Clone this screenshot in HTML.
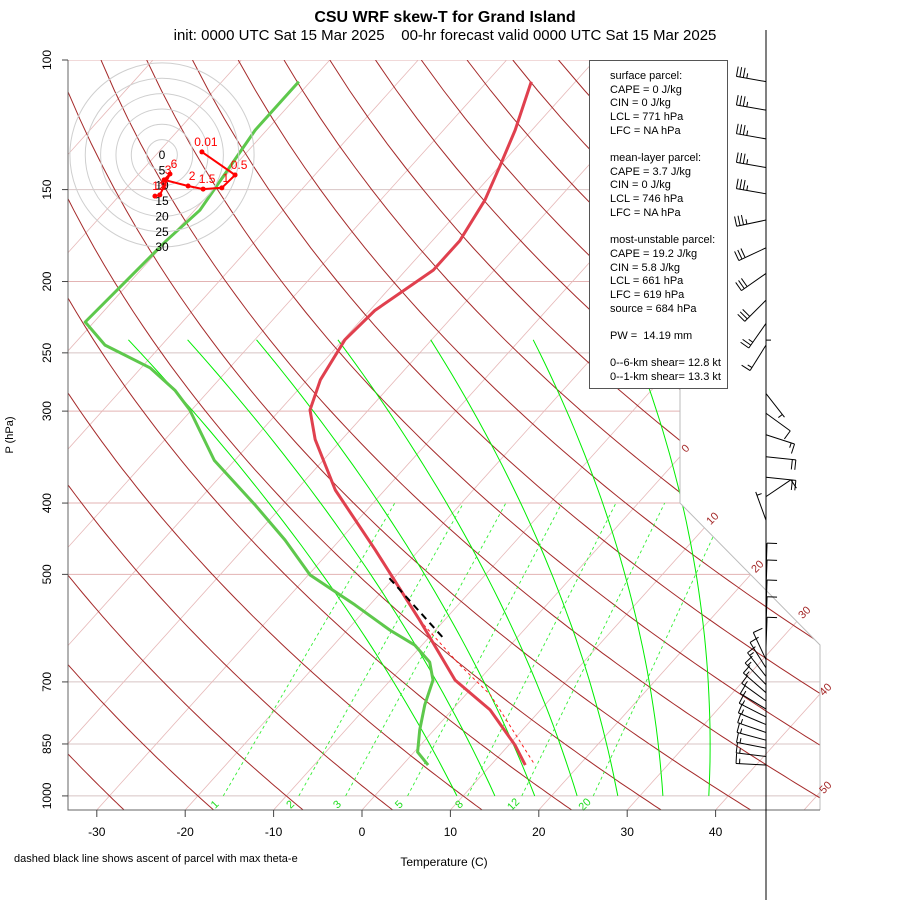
<!DOCTYPE html>
<html><head><meta charset="utf-8"><title>CSU WRF skew-T</title>
<style>
body{margin:0;background:#fff;}
svg{display:block;font-family:"Liberation Sans",Arial,sans-serif;}
.pre{white-space:pre;}
</style></head>
<body>
<svg id="chart" width="900" height="900" viewBox="0 0 900 900" xmlns="http://www.w3.org/2000/svg">
<defs>
<clipPath id="plotclip"><polygon points="68,60 680,60 680,503 820,645 820,810 68,810"/></clipPath>
</defs>
<text x="445" y="22" text-anchor="middle" font-size="16" font-weight="bold">CSU WRF skew-T for Grand Island</text>
<text class="pre" xml:space="preserve" x="445" y="40" text-anchor="middle" font-size="15">init: 0000 UTC Sat 15 Mar 2025    00-hr forecast valid 0000 UTC Sat 15 Mar 2025</text>
<g id="bg" clip-path="url(#plotclip)"></g>
<g id="fg"></g>
<text x="0" y="0" transform="translate(13,435) rotate(-90)" text-anchor="middle" font-size="11">P (hPa)</text>
<text x="444" y="866" text-anchor="middle" font-size="12">Temperature (C)</text>
<text x="14" y="862" font-size="11">dashed black line shows ascent of parcel with max theta-e</text>
<g>
<rect x="589.5" y="60.5" width="138" height="328" fill="#fff" stroke="#555" stroke-width="1"/>
<g font-size="11" fill="#000">
<text x="610" y="79">surface parcel:</text>
<text x="610" y="93">CAPE = 0 J/kg</text>
<text x="610" y="106">CIN = 0 J/kg</text>
<text x="610" y="120">LCL = 771 hPa</text>
<text x="610" y="134">LFC = NA hPa</text>
<text x="610" y="161">mean-layer parcel:</text>
<text x="610" y="175">CAPE = 3.7 J/kg</text>
<text x="610" y="188">CIN = 0 J/kg</text>
<text x="610" y="202">LCL = 746 hPa</text>
<text x="610" y="216">LFC = NA hPa</text>
<text x="610" y="243">most-unstable parcel:</text>
<text x="610" y="257">CAPE = 19.2 J/kg</text>
<text x="610" y="271">CIN = 5.8 J/kg</text>
<text x="610" y="284">LCL = 661 hPa</text>
<text x="610" y="298">LFC = 619 hPa</text>
<text x="610" y="312">source = 684 hPa</text>
<text class="pre" xml:space="preserve" x="610" y="339">PW =  14.19 mm</text>
<text x="610" y="366">0--6-km shear= 12.8 kt</text>
<text x="610" y="380">0--1-km shear= 13.3 kt</text>
</g>
</g>
<script>
// ---- data ----
const tempP = [908,853,764,696,577,463,384,328,299,272,240,219,193,176,155,139,124.5,107];
const tempT = [13.9,10.7,4.3,-2.7,-12.8,-25,-35.6,-43,-46.6,-48.5,-49.8,-49.4,-46.9,-46.9,-48.2,-50,-51.9,-55];
const dewP = [908,872,814,752,696,658,624,595,550,501,449,402,350,299,281,262,244,227,176,160,124.5,107];
const dewT = [2.9,0.4,-1.6,-3.6,-5.2,-7.4,-10.8,-15.2,-21.7,-29.8,-36.2,-43.2,-52.3,-60.2,-63.9,-69,-76.4,-81,-80.1,-79.4,-81.3,-81.3];
const parcelP = [506,614];
const parcelT = [-20.5,-7.9];
const sfcParcelP = [577,664,729,908];
const sfcParcelT = [-12.8,-3.7,2.8,15];
const pLevels = [100,150,200,250,300,400,500,700,850,1000];
const xTicks = [-30,-20,-10,0,10,20,30,40];
const mixRatios = [1,2,3,5,8,12,20];
const moistBottomT = [9.3,13.6,18.1,22.9,27.5,32.6,37.8];
const moistTopT = [-74.3,-67.6,-59.8,-50.6,-40.1,-28.5,-17.4];
const isoLabels = ['0','10','20','30','40','50'];
const hodoLabels = ['0.01','0.5','1','1.5','2','3','6','9','12'];
const hodoU = [13.0,23.8,19.5,13.4,8.5,0.7,2.6,-0.7,-2.3];
const hodoV = [1.0,-6.5,-10.7,-11.1,-10.1,-8.1,-6.2,-13.0,-13.4];
const barbP = [107,117,128,140,152,165,180,195,212,228,244,261,284,302,323,346,369,392,422,498,525,559,589,628,653,670,688,706,724,743,762,781,800,820,840,861,884,908];
const barbDir = [280,280,280,280,280,258,245,235,225,215,212,0,142,126,108,96,96,56,340,2,2,2,2,2,335,328,322,316,311,306,301,297,293,289,285,281,277,273];
const barbSpd = [35,35,35,35,35,35,30,30,30,25,15,5,5,10,15,20,20,10,5,10,10,10,10,10,10,10,15,15,15,15,15,15,15,15,15,15,15,15];

// ---- axis functions ----
const NS='http://www.w3.org/2000/svg';
function Y(p){return 60+319.6*Math.log(p/100);}
function X(T,p){return 362+8.84*T+0.9*(810-Y(p));}
function el(tag,attrs,parent){const e=document.createElementNS(NS,tag);for(const k in attrs)e.setAttribute(k,attrs[k]);parent.appendChild(e);return e;}
const bg=document.getElementById('bg');
const fg=document.getElementById('fg');

pLevels.forEach(p=>{
  const l=el('line',{x1:68,x2:820,y1:Y(p),y2:Y(p),stroke:(p==150||p==250||p==700||p==850||p==1000)?'#d8c4c4':'#e3b3b3','stroke-width':1},bg);
  
  
});
for(let T=-160;T<=50;T+=10){
  const l=el('line',{x1:X(T,1050),y1:Y(1050),x2:X(T,100),y2:Y(100),stroke:'#e6b8b8','stroke-width':0.8},bg);
  
  
}
for(let th=-30;th<=190;th+=10){
  let pts=[];
  for(let p=1050;p>=100;p-=10){const T=(th+273.15)*Math.pow(p/1000,0.286)-273.15;pts.push(X(T,p).toFixed(1)+','+Y(p).toFixed(1));}
  const l=el('polyline',{points:pts.join(' '),fill:'none',stroke:'#a52a2a','stroke-width':1},bg);
  
  
}
moistBottomT.forEach((tb,i)=>{
  const tt=moistTopT[i];let pts=[];
  for(let k=0;k<=40;k++){
    const t=k/40;const p=1000*Math.pow(240/1000,t);
    const T=tb+(tt-tb)*t;
    const x=X(T,p)+25*4*t*(1-t);
    pts.push(x.toFixed(1)+','+Y(p).toFixed(1));
  }
  const l=el('polyline',{points:pts.join(' '),fill:'none',stroke:'#00ee00','stroke-width':1},bg);
  
  
});
function wT(w,p){const e=w*p/(622+w);const a=Math.log(e/6.112);return 243.5*a/(17.67-a);}
mixRatios.forEach(w=>{
  const l=el('line',{x1:X(wT(w,1000),1000),y1:Y(1000),x2:X(wT(w,400),400),y2:Y(400),stroke:'#33ee33','stroke-width':0.9,'stroke-dasharray':'3,3'},bg);
  
  
  const x=X(wT(w,1000),1000)-6, y=Y(1000)+11;
  const t=el('text',{x:0,y:0,transform:'translate('+x+','+y+') rotate(-45)','text-anchor':'middle','font-size':11,fill:'#22dd22'},fg);
  t.textContent=String(w);
  
  
});
const bd=el('polyline',{points:'680,60 680,503 820,645 820,810',fill:'none',stroke:'#bbb','stroke-width':1},fg);


const ax=el('polyline',{points:'68,60 68,810 820,810',fill:'none',stroke:'#666','stroke-width':1},fg);


const isoPos=[[688,447],[715,517],[760,565],[807,611],[828,688],[828,786]];
isoLabels.forEach((s,i)=>{
  const t=el('text',{x:0,y:0,transform:'translate('+isoPos[i][0]+','+(isoPos[i][1]+4)+') rotate(-45)','text-anchor':'middle','font-size':11,fill:'#a52a2a'},fg);
  t.textContent=s;
  
  
});
pLevels.forEach(p=>{
  const l=el('line',{x1:62,x2:68,y1:Y(p),y2:Y(p),stroke:'#444'},fg);
  
  
  const t=el('text',{x:0,y:0,transform:'translate(51,'+Y(p)+') rotate(-90)','text-anchor':'middle','font-size':12},fg);
  t.textContent=String(p);
  
  
});
xTicks.forEach(T=>{
  const x=362+8.84*T;
  const l=el('line',{x1:x,x2:x,y1:810,y2:817,stroke:'#444'},fg);
  
  
  const t=el('text',{x:x,y:836,'text-anchor':'middle','font-size':12},fg);
  t.textContent=String(T);
  
  
});
function pl(P,T){return P.map((p,i)=>X(T[i],p).toFixed(1)+','+Y(p).toFixed(1)).join(' ');}
const dl=el('polyline',{points:pl(dewP,dewT),fill:'none',stroke:'#5ec84c','stroke-width':3,'stroke-linejoin':'round'},fg);


const sp=el('polyline',{points:pl(sfcParcelP,sfcParcelT),fill:'none',stroke:'#ff2020','stroke-width':1,'stroke-dasharray':'3,3'},fg);


const tl=el('polyline',{points:pl(tempP,tempT),fill:'none',stroke:'#e0404e','stroke-width':3,'stroke-linejoin':'round'},fg);


const pp=el('polyline',{points:pl(parcelP,parcelT),fill:'none',stroke:'#000','stroke-width':2,'stroke-dasharray':'7,5'},fg);


const hc=[162,155], hs=3.07;
for(let r=5;r<=30;r+=5){
  const c=el('circle',{cx:hc[0],cy:hc[1],r:r*hs,fill:'none',stroke:'#cfcfcf','stroke-width':1},fg);
  
  
}
for(let r=0;r<=30;r+=5){
  const t=el('text',{x:hc[0],y:hc[1]+r*hs+4,'text-anchor':'middle','font-size':12,fill:'#000'},fg);
  t.textContent=String(r);
  
  
}
const hp=hodoU.map((u,i)=>(hc[0]+u*hs).toFixed(1)+','+(hc[1]-hodoV[i]*hs).toFixed(1)).join(' ');
const hl=el('polyline',{points:hp,fill:'none',stroke:'#ff0000','stroke-width':2},fg);


hodoU.forEach((u,i)=>{
  const x=hc[0]+u*hs,y=hc[1]-hodoV[i]*hs;
  const c=el('circle',{cx:x,cy:y,r:2.5,fill:'#ff0000'},fg);
  
  
  const t=el('text',{x:x+4,y:y-6,'text-anchor':'middle','font-size':12,fill:'#ff0000'},fg);
  t.textContent=hodoLabels[i];
  
  
});
const ws=el('line',{x1:766,x2:766,y1:30,y2:900,stroke:'#000','stroke-width':1},fg);


barbP.forEach((p,i)=>{
  const y0=Y(p),x0=766,th=barbDir[i]*Math.PI/180;
  const dx=Math.sin(th),dy=-Math.cos(th),L=30;
  const tx=x0+dx*L,ty=y0+dy*L;
  const g=el('g',{stroke:'#000','stroke-width':1,fill:'none'},fg);
  
  
  el('line',{x1:x0,y1:y0,x2:tx,y2:ty},g);
  const px=-dy,py=dx;
  let s=barbSpd[i],k=0;
  while(s>=10){const bx=tx-dx*k*3.5,by=ty-dy*k*3.5;el('line',{x1:bx,y1:by,x2:bx+px*10,y2:by+py*10},g);s-=10;k++;}
  if(s>=5){if(k==0)k=1;const bx=tx-dx*k*3.5,by=ty-dy*k*3.5;el('line',{x1:bx,y1:by,x2:bx+px*5,y2:by+py*5},g);}
});
</script>
</svg>
</body></html>
